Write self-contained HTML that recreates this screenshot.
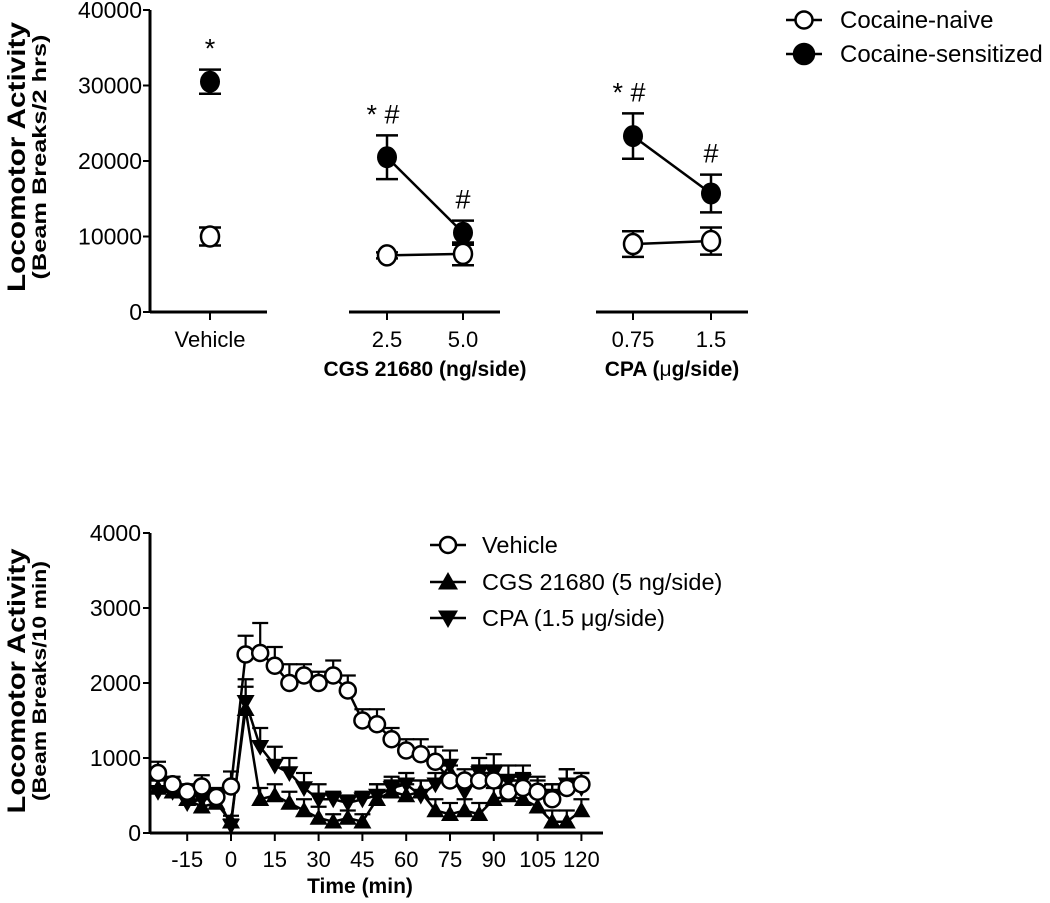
<!DOCTYPE html>
<html><head><meta charset="utf-8"><style>
html,body{margin:0;padding:0;background:#fff;}
svg{display:block;font-family:"Liberation Sans",Arial,sans-serif;}
</style></head><body>
<svg id="fig" width="1050" height="903" viewBox="0 0 1050 903" xmlns="http://www.w3.org/2000/svg">
<g id="top"></g>
<g id="bot"></g>
</svg>
<script>
// ---------- Top chart data ----------
const topGroups = ["Vehicle","2.5","5.0","0.75","1.5"];
const naiveVals = [10000,7500,7700,9000,9400];
const naiveErr = [1200,400,1500,1700,1800];
const sensVals = [30500,20500,10500,23300,15700];
const sensErr = [1600,2900,1600,3000,2500];
const topTicks = [0,10000,20000,30000,40000];
const sensMarks = ["*","* #","#","* #","#"];

// ---------- Bottom chart data ----------
const times = [-25,-20,-15,-10,-5,0,5,10,15,20,25,30,35,40,45,50,55,60,65,70,75,80,85,90,95,100,105,110,115,120];
const vehVals = [800,650,550,620,480,620,2380,2400,2230,2000,2100,2000,2100,1900,1500,1450,1250,1100,1050,950,700,700,700,700,550,600,550,450,600,650];
const vehErr = [150,100,100,150,100,200,250,400,250,250,150,150,200,200,150,200,150,150,200,200,200,150,200,200,200,200,200,200,250,150];
const cgsVals = [600,550,450,350,400,150,1650,450,500,400,300,200,150,200,150,450,550,500,550,300,250,300,250,450,500,450,350,150,150,300];
const cgsErr = [100,100,100,100,100,80,300,150,150,150,150,150,100,100,100,200,150,150,150,150,150,150,150,150,200,200,200,150,150,150];
const cpaVals = [550,550,400,450,500,100,1750,1150,900,800,600,450,450,400,450,500,600,650,500,650,900,550,800,800,700,700,550,500,650,600];
const cpaErr = [150,100,100,100,100,80,300,250,250,200,200,200,100,100,100,150,150,150,200,150,200,200,200,250,200,200,150,150,200,200];
const botTicks = [0,1000,2000,3000,4000];
const timeTicks = [-15,0,15,30,45,60,75,90,105,120];

const NS="http://www.w3.org/2000/svg";
function mk(parent,tag,attrs,text){const e=document.createElementNS(NS,tag);for(const k in attrs)e.setAttribute(k,attrs[k]);if(text!==undefined)e.textContent=text;parent.appendChild(e);return e;}
function txt(p,x,y,s,size,opts){return mk(p,'text',Object.assign({x:x,y:y,'font-size':size,fill:'#000'},opts||{}),s);}

// ===== TOP =====
const T=document.getElementById('top');
const ty=v=>312-v*(302/40000);
const topX=[210,387,463,633,711];
let e;
e=mk(T,'line',{x1:150,y1:10,x2:150,y2:313,stroke:'#000','stroke-width':3});

[[150,267,'top-x-axis-vehicle'],[349,500,'top-x-axis-cgs'],[596,748,'top-x-axis-cpa']].forEach(s=>{
 const l=mk(T,'line',{x1:s[0],y1:312,x2:s[1],y2:312,stroke:'#000','stroke-width':3});
 
});
topTicks.forEach(v=>{
 mk(T,'line',{x1:143,y1:ty(v),x2:150,y2:ty(v),stroke:'#000','stroke-width':2});
 const t=txt(T,142,ty(v)+8,String(v),23,{'text-anchor':'end'});
 
});
topGroups.forEach((g,i)=>{
 mk(T,'line',{x1:topX[i],y1:312,x2:topX[i],y2:320,stroke:'#000','stroke-width':2});
 const t=txt(T,topX[i],347,g,22,{'text-anchor':'middle'});
 
});
e=txt(T,425,376,'CGS 21680 (ng/side)',21,{'text-anchor':'middle','font-weight':'bold'});

e=txt(T,672,376,'',21,{'text-anchor':'middle','font-weight':'bold'});
e.innerHTML='CPA (<tspan font-weight="normal">μ</tspan>g/side)';

e=txt(T,0,0,'Locomotor  Activity',25,{'font-weight':'bold','text-anchor':'middle',textLength:270,lengthAdjust:'spacingAndGlyphs',transform:'translate(25,157) rotate(-90)'});

e=txt(T,0,0,'(Beam Breaks/2 hrs)',19,{'font-weight':'bold','text-anchor':'middle',textLength:245,lengthAdjust:'spacingAndGlyphs',transform:'translate(46,157) rotate(-90)'});


function errbar(p,x,v,err,yf,w,name){
 const g=mk(p,'g',{stroke:'#000','stroke-width':2.5});
 
 mk(g,'line',{x1:x,y1:yf(v+err),x2:x,y2:yf(v-err)});
 mk(g,'line',{x1:x-11,y1:yf(v+err),x2:x+w,y2:yf(v+err)});
 mk(g,'line',{x1:x-11,y1:yf(v-err),x2:x+w,y2:yf(v-err)});
}
[[1,2],[3,4]].forEach(pr=>{
 [[naiveVals,'naive-line'],[sensVals,'sensitized-line']].forEach(s=>{
  const l=mk(T,'line',{x1:topX[pr[0]],y1:ty(s[0][pr[0]]),x2:topX[pr[1]],y2:ty(s[0][pr[1]]),stroke:'#000','stroke-width':2.5});
  
 });
});
topGroups.forEach((g,i)=>{
 errbar(T,topX[i],naiveVals[i],naiveErr[i],ty,11,'naive-error-bar');
 errbar(T,topX[i],sensVals[i],sensErr[i],ty,11,'sensitized-error-bar');
 const c1=mk(T,'ellipse',{cx:topX[i],cy:ty(naiveVals[i]),rx:9,ry:10,fill:'#fff',stroke:'#000','stroke-width':2.5});
 
 const c2=mk(T,'ellipse',{cx:topX[i],cy:ty(sensVals[i]),rx:10,ry:11,fill:'#000'});
 
 const m=txt(T,topX[i]+(sensMarks[i].length>1?-4:0),ty(sensVals[i]+sensErr[i])-12,sensMarks[i],27,{'text-anchor':'middle'});
 
});
function legendTop(y,fill,label,name){
 const g=mk(T,'g',{});
 
 mk(g,'line',{x1:786,y1:y,x2:822,y2:y,stroke:'#000','stroke-width':2.5});
 mk(g,'circle',{cx:804,cy:y,r:fill==='#000'?10:8.5,fill:fill,stroke:'#000','stroke-width':2.5});
 txt(g,840,y+8,label,24);
}
legendTop(20,'#fff','Cocaine-naive','legend-cocaine-naive');
legendTop(54,'#000','Cocaine-sensitized','legend-cocaine-sensitized');

// ===== BOTTOM =====
const B=document.getElementById('bot');
const by=v=>833-v*(300/4000);
const bx=t=>231+t*(43.8/15);
e=mk(B,'line',{x1:150,y1:533,x2:150,y2:834,stroke:'#000','stroke-width':3});

e=mk(B,'line',{x1:150,y1:833,x2:603,y2:833,stroke:'#000','stroke-width':3});

botTicks.forEach(v=>{
 mk(B,'line',{x1:143,y1:by(v),x2:150,y2:by(v),stroke:'#000','stroke-width':2});
 const t=txt(B,141,by(v)+8,String(v),23,{'text-anchor':'end'});
 
});
timeTicks.forEach(v=>{
 mk(B,'line',{x1:bx(v),y1:833,x2:bx(v),y2:841,stroke:'#000','stroke-width':2});
 const t=txt(B,bx(v),867,String(v),22,{'text-anchor':'middle'});
 
});
e=txt(B,360,893,'Time (min)',21,{'text-anchor':'middle','font-weight':'bold'});

e=txt(B,0,0,'Locomotor  Activity',25,{'font-weight':'bold','text-anchor':'middle',textLength:265,lengthAdjust:'spacingAndGlyphs',transform:'translate(25,681) rotate(-90)'});

e=txt(B,0,0,'(Beam Breaks/10 min)',19,{'font-weight':'bold','text-anchor':'middle',textLength:240,lengthAdjust:'spacingAndGlyphs',transform:'translate(46,681) rotate(-90)'});


function upTri(p,x,y,s){return mk(p,'polygon',{points:`${x},${y-s} ${x-s},${y+s*0.75} ${x+s},${y+s*0.75}`,fill:'#000'});}
function downTri(p,x,y,s){return mk(p,'polygon',{points:`${x},${y+s} ${x-s},${y-s*0.75} ${x+s},${y-s*0.75}`,fill:'#000'});}

function series(vals,errs,name,marker){
 const g=mk(B,'g',{});
 
 const pts=times.map((t,i)=>bx(t)+','+by(vals[i])).join(' ');
 const pl=mk(g,'polyline',{points:pts,fill:'none',stroke:'#000','stroke-width':2.5});
 
 times.forEach((t,i)=>{
  const eb=mk(g,'g',{stroke:'#000','stroke-width':2.2});
  
  mk(eb,'line',{x1:bx(t),y1:by(vals[i]),x2:bx(t),y2:by(vals[i]+errs[i])});
  mk(eb,'line',{x1:bx(t)-8,y1:by(vals[i]+errs[i]),x2:bx(t)+8,y2:by(vals[i]+errs[i])});
 });
 times.forEach((t,i)=>{
  let m;
  if(marker==='circle') m=mk(g,'circle',{cx:bx(t),cy:by(vals[i]),r:8,fill:'#fff',stroke:'#000','stroke-width':2.5});
  else if(marker==='up') m=upTri(g,bx(t),by(vals[i]),9);
  else m=downTri(g,bx(t),by(vals[i]),9);
  
  
 });
}
series(cpaVals,cpaErr,'cpa','down');
series(cgsVals,cgsErr,'cgs','up');
series(vehVals,vehErr,'vehicle','circle');

function legendBot(y,marker,label,name){
 const g=mk(B,'g',{});
 
 mk(g,'line',{x1:430,y1:y,x2:466,y2:y,stroke:'#000','stroke-width':2.5});
 if(marker==='circle') mk(g,'circle',{cx:448,cy:y,r:8,fill:'#fff',stroke:'#000','stroke-width':2.5});
 else if(marker==='up') upTri(g,448,y,10); else downTri(g,448,y,10);
 const t=txt(g,482,y+8,'',23.5);
 t.innerHTML=label;
}
legendBot(545,'circle','Vehicle','legend-vehicle');
legendBot(582,'up','CGS 21680 (5 ng/side)','legend-cgs');
legendBot(618,'down','CPA (1.5 μg/side)','legend-cpa');
</script>
</body></html>
